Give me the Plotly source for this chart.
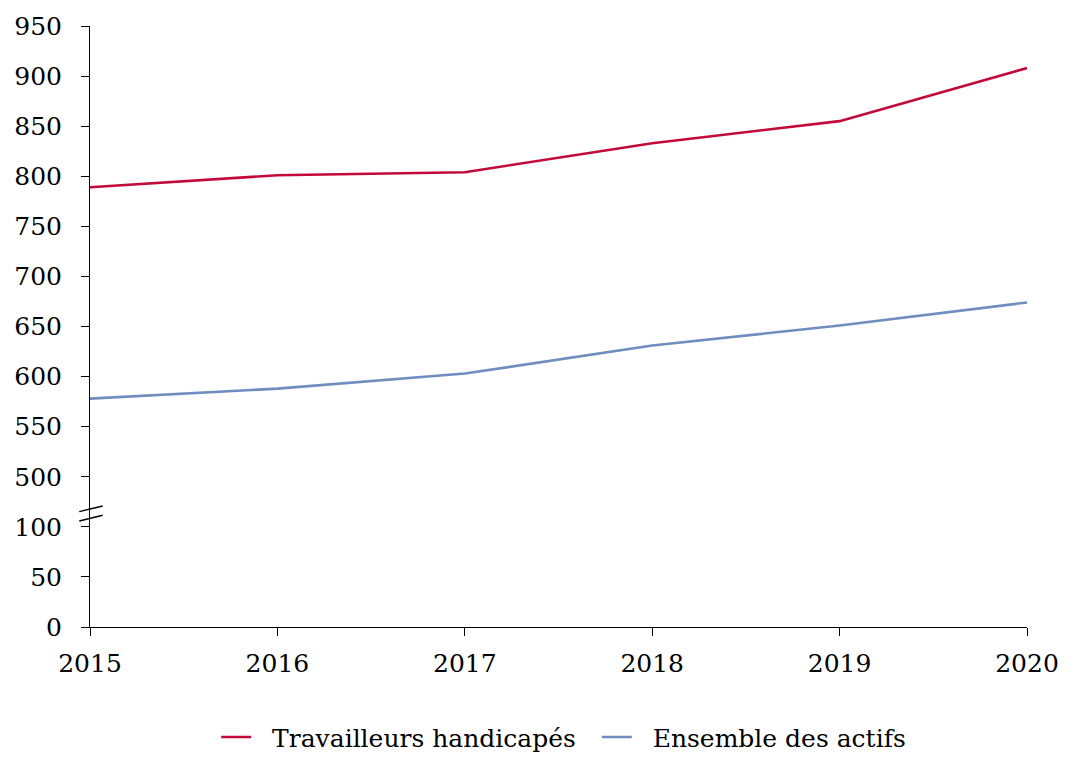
import plotly.graph_objects as go

years = [2015, 2016, 2017, 2018, 2019, 2020]
travailleurs_handicapes = [789, 801, 804, 833, 855, 908]
ensemble_actifs = [578, 588, 603, 631, 651, 674]

tick_values_real = [0, 50, 100, 500, 550, 600, 650, 700, 750, 800, 850, 900, 950]
tick_labels = [str(v) for v in tick_values_real]

BREAK_LOW = 100
BREAK_HIGH = 500
BREAK_GAP = BREAK_HIGH - BREAK_LOW - 50  # 500 sits one step above 100


def broken(v):
    return v - BREAK_GAP if v >= BREAK_HIGH else v


FONT = "DejaVu Serif"
RED = "#C3093B"
BLUE = "#6F8DBE"

fig = go.Figure()
fig.add_trace(go.Scatter(
    x=years, y=[broken(v) for v in travailleurs_handicapes],
    mode="lines", name="  Travailleurs handicapés  ",
    line=dict(color=RED, width=2.6)))
fig.add_trace(go.Scatter(
    x=years, y=[broken(v) for v in ensemble_actifs],
    mode="lines", name="  Ensemble des actifs",
    line=dict(color=BLUE, width=2.6)))

# axis break marks
for dy0, dy1 in [(3.2, 8.9), (-6.1, -0.4)]:
    fig.add_shape(type="line", xref="paper", xsizemode="pixel", xanchor=0,
                  x0=-10.7, x1=12.7, yref="y", ysizemode="pixel", yanchor=112,
                  y0=dy0, y1=dy1, line=dict(color="black", width=1.5))

fig.update_layout(
    width=1084, height=772,
    margin=dict(l=90, r=57, t=26, b=145, autoexpand=False),
    paper_bgcolor="white", plot_bgcolor="white",
    font=dict(family=FONT, size=25, color="black"),
    showlegend=True,
    legend=dict(orientation="h", x=0.52, xanchor="center", xref="container",
                y=0.045, yanchor="middle", yref="container",
                font=dict(family=FONT, size=25, color="black"),
                itemwidth=30, tracegroupgap=0),
    xaxis=dict(range=[2015, 2020], tickvals=years, ticktext=[str(y) for y in years],
               showgrid=False, zeroline=False, showline=True, linecolor="black",
               linewidth=1, ticks="outside", ticklen=8, tickcolor="black",
               ticklabelstandoff=6,
               automargin=False, tickfont=dict(family=FONT, size=25)),
    yaxis=dict(range=[0, 600], tickvals=[broken(v) for v in tick_values_real],
               ticktext=tick_labels, showgrid=False, zeroline=False,
               showline=True, linecolor="black", linewidth=1, ticks="outside",
               ticklen=8, tickcolor="black", ticklabelstandoff=14,
               automargin=False, tickfont=dict(family=FONT, size=25)),
)

fig.write_html("out.html", config={"displayModeBar": False},
               post_script="document.body.style.margin='0';")
